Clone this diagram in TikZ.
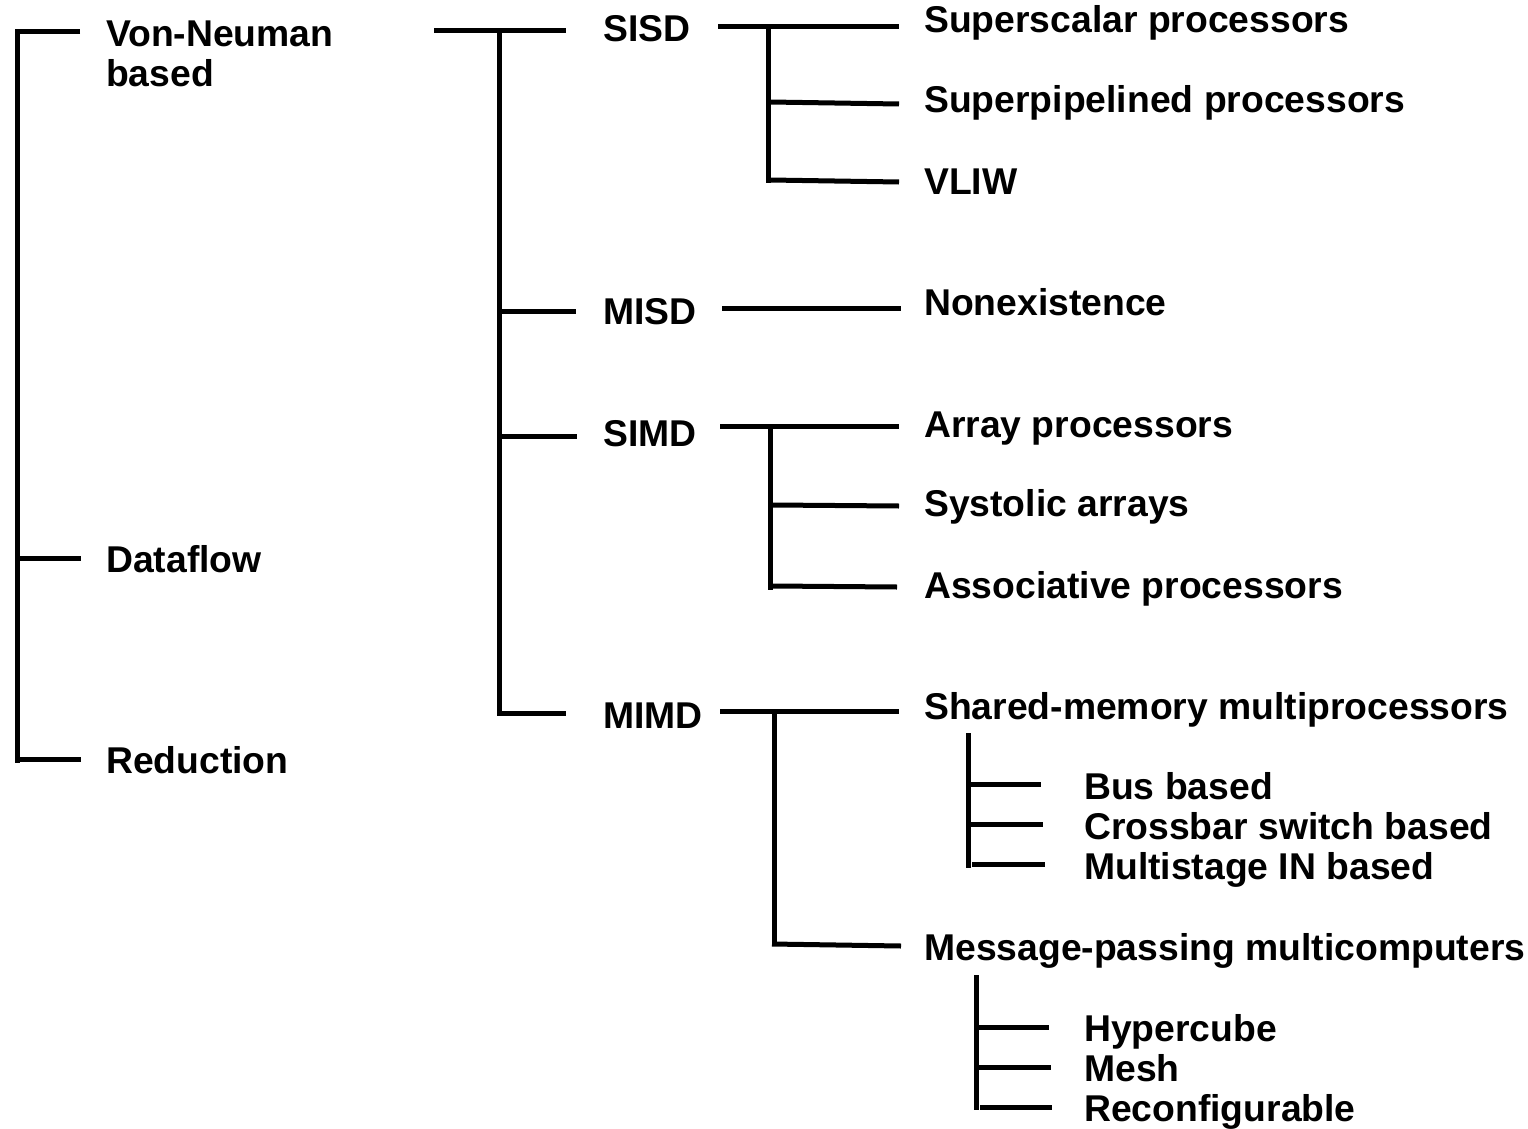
\documentclass[tikz,border=0pt]{standalone}
\usepackage{fontspec}
\setmainfont{Liberation Sans}
\begin{document}
\begin{tikzpicture}[x=1pt,y=-1pt,
  lbl/.style={anchor=base west,inner sep=0pt,font=\bfseries\fontsize{37.3}{40}\selectfont},
  ln/.style={line width=5pt}]
\useasboundingbox (0,0) rectangle (1528,1129);
% texts
\node[lbl,align=left] (vn) at (106,87) {Von-Neuman\\based};
\node[lbl] (df) at (106,572) {Dataflow};
\node[lbl] (rd) at (106,773) {Reduction};
\node[lbl] (sisd) at (603,42) {SISD};
\node[lbl] (misd) at (603,324) {MISD};
\node[lbl] (simd) at (603,446) {SIMD};
\node[lbl] (mimd) at (603,728) {MIMD};
\node[lbl] (ss) at (924,33) {Superscalar processors};
\node[lbl] (sp) at (924,113) {Superpipelined processors};
\node[lbl] (vliw) at (924,194) {VLIW};
\node[lbl] (nonex) at (924,315) {Nonexistence};
\node[lbl] (arr) at (924,437) {Array processors};
\node[lbl] (sys) at (924,516) {Systolic arrays};
\node[lbl] (asso) at (924,598) {Associative processors};
\node[lbl] (shm) at (924,719) {Shared-memory multiprocessors};
\node[lbl] (mpm) at (924,960) {Message-passing multicomputers};
\node[lbl] (bus) at (1084,799) {Bus based};
\node[lbl] (cross) at (1084,839) {Crossbar switch based};
\node[lbl] (multi) at (1084,879) {Multistage IN based};
\node[lbl] (hyp) at (1084,1041) {Hypercube};
\node[lbl] (mesh) at (1084,1081) {Mesh};
\node[lbl] (recon) at (1084,1121) {Reconfigurable};
% level 0 bracket
\coordinate (a0) at (80,32); \coordinate (a1) at (17,32); \coordinate (a2) at (17,763);
\coordinate (a3) at (17,558); \coordinate (a4) at (81,558);
\coordinate (a5) at (17,759); \coordinate (a6) at (81,759);
\draw[ln] (a0) -- (a1) -- (a2);
\draw[ln] (a3) -- (a4);
\draw[ln] (a5) -- (a6);
% level 1
\coordinate (b0) at (434,31); \coordinate (b1) at (566,31);
\coordinate (b2) at (499,31); \coordinate (b3) at (499,715);
\coordinate (b4) at (499,311); \coordinate (b5) at (576,311);
\coordinate (b6) at (499,436); \coordinate (b7) at (577,436);
\coordinate (b8) at (497,713); \coordinate (b9) at (566,713);
\draw[ln] (b0) -- (b1);
\draw[ln] (b2) -- (b3);
\draw[ln] (b4) -- (b5);
\draw[ln] (b6) -- (b7);
\draw[ln] (b8) -- (b9);
% SISD
\coordinate (c0) at (718,27); \coordinate (c1) at (899,27);
\coordinate (c2) at (768,27); \coordinate (c3) at (768,183);
\coordinate (c4) at (770,102); \coordinate (c5) at (899,104);
\coordinate (c6) at (770,180); \coordinate (c7) at (899,182);
\draw[ln] (c0) -- (c1);
\draw[ln] (c2) -- (c3);
\draw[ln] (c4) -- (c5);
\draw[ln] (c6) -- (c7);
% MISD
\coordinate (d0) at (722,308); \coordinate (d1) at (901,308);
\draw[ln] (d0) -- (d1);
% SIMD
\coordinate (e0) at (720,426); \coordinate (e1) at (899,426);
\coordinate (e2) at (770,426); \coordinate (e3) at (770,590);
\coordinate (e4) at (772,505); \coordinate (e5) at (899,506);
\coordinate (e6) at (772,586); \coordinate (e7) at (897,587);
\draw[ln] (e0) -- (e1);
\draw[ln] (e2) -- (e3);
\draw[ln] (e4) -- (e5);
\draw[ln] (e6) -- (e7);
% MIMD
\coordinate (f0) at (720,711); \coordinate (f1) at (899,711);
\coordinate (f2) at (774,711); \coordinate (f3) at (774,946);
\coordinate (f4) at (772,944); \coordinate (f5) at (901,946);
\draw[ln] (f0) -- (f1);
\draw[ln] (f2) -- (f3);
\draw[ln] (f4) -- (f5);
% shared memory
\coordinate (g0) at (968,733); \coordinate (g1) at (968,868);
\coordinate (g2) at (968,784); \coordinate (g3) at (1041,784);
\coordinate (g4) at (968,824); \coordinate (g5) at (1043,824);
\coordinate (g6) at (972,864); \coordinate (g7) at (1045,864);
\draw[ln] (g0) -- (g1);
\draw[ln] (g2) -- (g3);
\draw[ln] (g4) -- (g5);
\draw[ln] (g6) -- (g7);
% message passing
\coordinate (h0) at (976,975); \coordinate (h1) at (976,1110);
\coordinate (h2) at (976,1027); \coordinate (h3) at (1049,1027);
\coordinate (h4) at (976,1067); \coordinate (h5) at (1051,1067);
\coordinate (h6) at (980,1107); \coordinate (h7) at (1052,1107);
\draw[ln] (h0) -- (h1);
\draw[ln] (h2) -- (h3);
\draw[ln] (h4) -- (h5);
\draw[ln] (h6) -- (h7);
\end{tikzpicture}
\end{document}
